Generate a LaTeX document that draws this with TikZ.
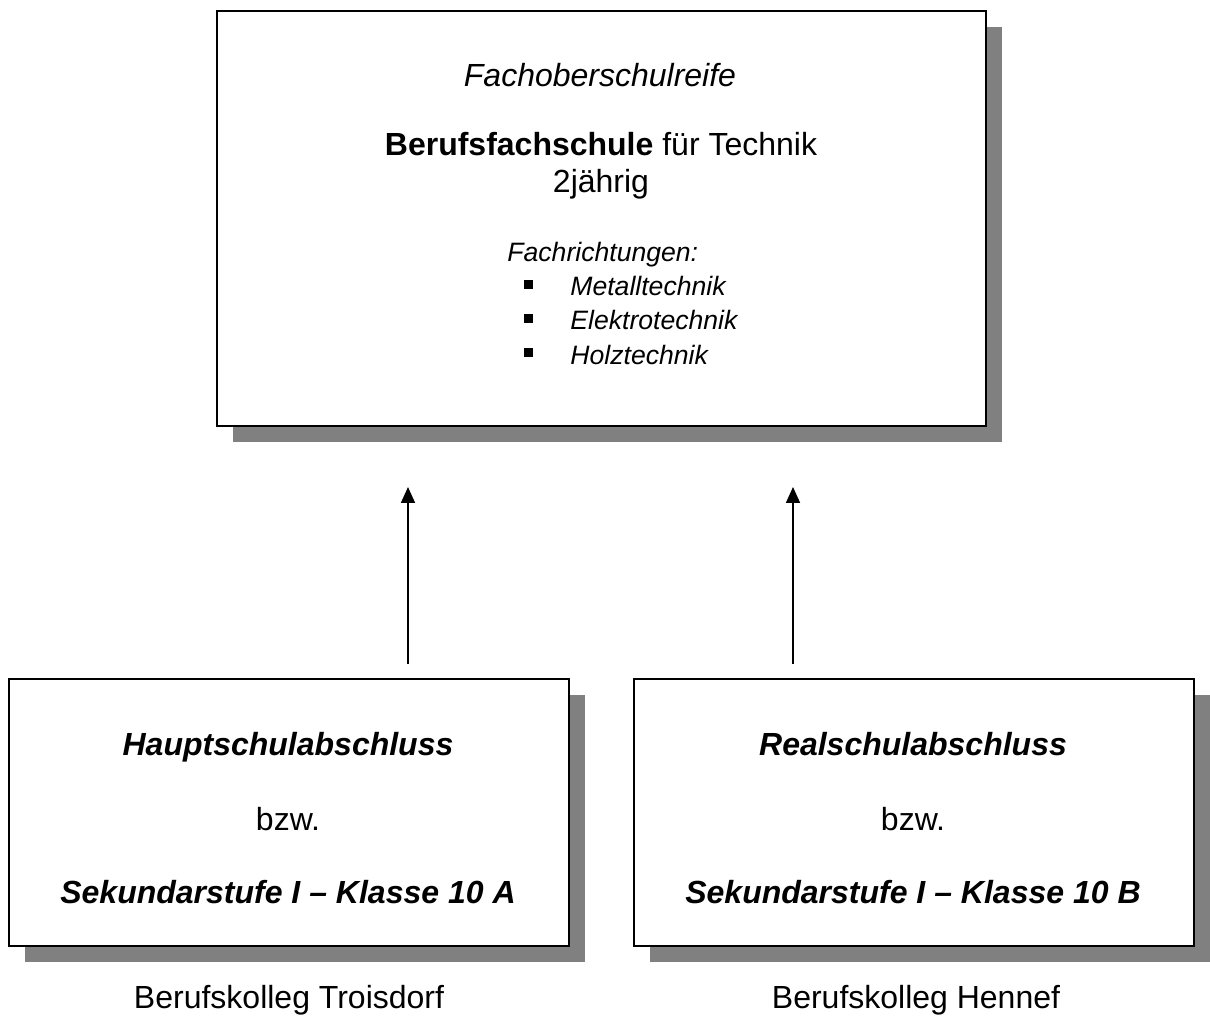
\documentclass[tikz,border=0pt]{standalone}
\usepackage{fontspec}
\setmainfont{Liberation Sans}
\usetikzlibrary{arrows.meta,shadows}
\definecolor{shadowgray}{HTML}{808080}
\begin{document}
\begin{tikzpicture}[x=0.5pt,y=-0.5pt,
  box/.style={draw=black,line width=1pt,fill=white,inner sep=0pt,anchor=north west,
    drop shadow={shadow xshift=8pt,shadow yshift=-8pt,fill=shadowgray,opacity=1}},
  txt/.style={inner sep=0pt,anchor=base,font=\fontsize{16}{19}\selectfont},
  small/.style={inner sep=0pt,anchor=base west,font=\fontsize{13.3}{16}\selectfont\itshape},
  bul/.style={fill=black,minimum size=4.5pt,inner sep=0pt},
  conn/.style={line width=0.85pt,-{Triangle[length=8pt,width=7pt]}}]
\useasboundingbox (0,0) rectangle (1210,1020);
% boxes
\node[box,minimum width=384.5pt,minimum height=207.5pt] (top) at (216,10) {};
\node[box,minimum width=280pt,minimum height=133.5pt] (left) at (8,678) {};
\node[box,minimum width=280pt,minimum height=133.5pt] (right) at (633,678) {};
% top box text
\node[txt,font=\fontsize{16}{19}\selectfont\itshape] (t1) at (600,87) {Fachoberschulreife};
\node[txt] (t2) at (601,156) {\textbf{Berufsfachschule} für Technik};
\node[txt] (t3) at (601,193) {2jährig};
\node[small] (t4) at (507,262) {Fachrichtungen:};
\node[bul] (b1) at (528,285) {};
\node[bul] (b2) at (528,319) {};
\node[bul] (b3) at (528,353) {};
\node[small] (i1) at (570,296) {Metalltechnik};
\node[small] (i2) at (570,330) {Elektrotechnik};
\node[small] (i3) at (570,365) {Holztechnik};
% left box text
\node[txt,font=\fontsize{16}{19}\selectfont\bfseries\itshape] (l1) at (288,755) {Hauptschulabschluss};
\node[txt] (l2) at (288,830) {bzw.};
\node[txt,font=\fontsize{16}{19}\selectfont\bfseries\itshape] (l3) at (288,903) {Sekundarstufe I – Klasse 10 A};
% right box text
\node[txt,font=\fontsize{16}{19}\selectfont\bfseries\itshape] (r1) at (913,755) {Realschulabschluss};
\node[txt] (r2) at (913,830) {bzw.};
\node[txt,font=\fontsize{16}{19}\selectfont\bfseries\itshape] (r3) at (913,903) {Sekundarstufe I – Klasse 10 B};
% captions
\node[txt] (c1) at (289,1008) {Berufskolleg Troisdorf};
\node[txt] (c2) at (916,1008) {Berufskolleg Hennef};
% arrows
\coordinate (a1s) at (408,664);
\coordinate (a1e) at (408,487);
\coordinate (a2s) at (793,664);
\coordinate (a2e) at (793,487);
\draw[conn] (a1s) -- (a1e);
\draw[conn] (a2s) -- (a2e);
\end{tikzpicture}
\end{document}
